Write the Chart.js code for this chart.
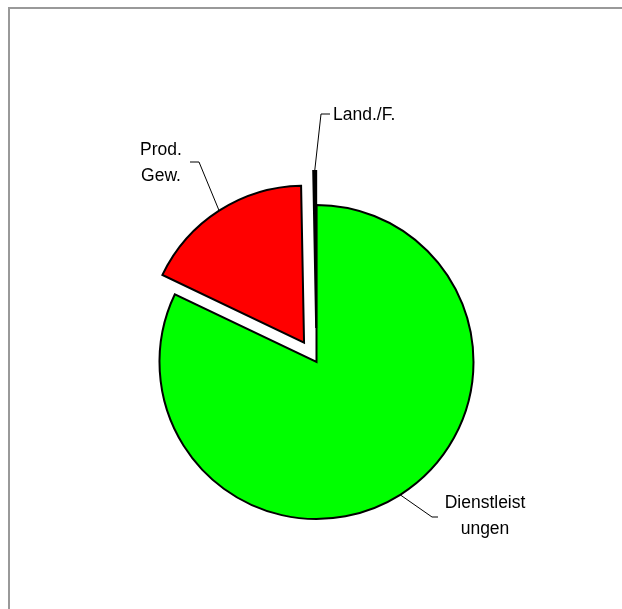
<!DOCTYPE html>
<html>
<head>
<meta charset="utf-8">
<script src="https://cdn.jsdelivr.net/npm/chart.js@4.4.0/dist/chart.umd.min.js"></script>
<style>
    html, body { margin: 0; padding: 0; background: #fff; overflow: hidden; }
    #frame { position: absolute; left: 8px; top: 7px; width: 700px; height: 700px;
             border-top: 2px solid #999; border-left: 2px solid #999; }
    #wrap { position: absolute; left: 0; top: 0; width: 622px; height: 609px; }
</style>
</head>
<body>
<div id="frame"></div>
<div id="wrap"><canvas id="pie-chart" width="622" height="609"></canvas></div>
<script>
// Anteile nach Sektoren (%)
var sectors = ['Dienstleistungen', 'Prod. Gew.', 'Land./F.'];
var shares = [82.1, 17.6, 0.3];
var labelLines = [['Dienstleist', 'ungen'], ['Prod.', 'Gew.'], ['Land./F.']];

// styles
var sliceColors = ['#00ff00', '#ff0000', '#000000'];
var explodePx = [0, 23, 34];

// label placement: elbow of the leader, end of the leader, text anchor
var labelLayout = [
    { elbow: [432, 517], end: [438, 517], x: 485, y: 508, align: 'center' },
    { elbow: [199, 162], end: [190, 162], x: 161, y: 155, align: 'center' },
    { elbow: [321, 114], end: [330, 114], x: 333, y: 120, align: 'left' }
];
var lineHeight = 25.5;

// Chart.js grows and narrows offset arcs, undo that so exploded slices
// keep their real radius and angle
var keepShape = {
    id: 'keepShape',
    afterDatasetsUpdate: function (chart) {
        var meta = chart.getDatasetMeta(0);
        var r = meta.controller.outerRadius;
        meta.data.forEach(function (arc) {
            var off = (arc.options.offset || 0) / 4;
            if (!off) return;
            var circ = arc.endAngle - arc.startAngle;
            var radOff = off * (1 - Math.sin(Math.min(Math.PI, circ)));
            arc.outerRadius = r - radOff;
            var grow = radOff / Math.PI / r / 2;
            arc.startAngle -= grow;
            arc.endAngle += grow;
        });
    }
};

var sliceLabels = {
    id: 'sliceLabels',
    afterDatasetsDraw: function (chart) {
        var ctx = chart.ctx;
        var meta = chart.getDatasetMeta(0);
        var r = meta.controller.outerRadius;
        ctx.save();
        ctx.strokeStyle = '#000';
        ctx.lineWidth = 1;
        ctx.fillStyle = '#000';
        ctx.font = '17.5px "Liberation Sans", Arial, sans-serif';
        ctx.textBaseline = 'alphabetic';
        meta.data.forEach(function (arc, i) {
            var lay = labelLayout[i];
            var mid = (arc.startAngle + arc.endAngle) / 2;
            var rr = r + (arc.options.offset || 0) / 4;
            var ax = arc.x + Math.cos(mid) * rr;
            var ay = arc.y + Math.sin(mid) * rr;
            ctx.beginPath();
            ctx.moveTo(ax, ay);
            ctx.lineTo(lay.elbow[0], lay.elbow[1]);
            ctx.lineTo(lay.end[0], lay.end[1]);
            ctx.stroke();
            ctx.textAlign = lay.align;
            labelLines[i].forEach(function (t, k) {
                ctx.fillText(t, lay.x, lay.y + k * lineHeight);
            });
        });
        ctx.restore();
    }
};

var ctx = document.getElementById('pie-chart').getContext('2d');
var pieChart = new Chart(ctx, {
    type: 'pie',
    data: {
        labels: sectors,
        datasets: [
            {
                data: shares,
                backgroundColor: sliceColors,
                borderColor: '#000',
                borderWidth: 2,
                borderJoinStyle: 'miter',
                offset: explodePx.map(function (v) { return v * 4; }),
                radius: 157,
            },
        ],
    },
    options: {
        responsive: false,
        animation: false,
        events: [],
        layout: { padding: { left: 11, top: 115, right: 0, bottom: 0 } },
        plugins: {
            legend: { display: false },
            tooltip: { enabled: false },
        },
    },
    plugins: [keepShape, sliceLabels],
});
</script>
</body>
</html>
